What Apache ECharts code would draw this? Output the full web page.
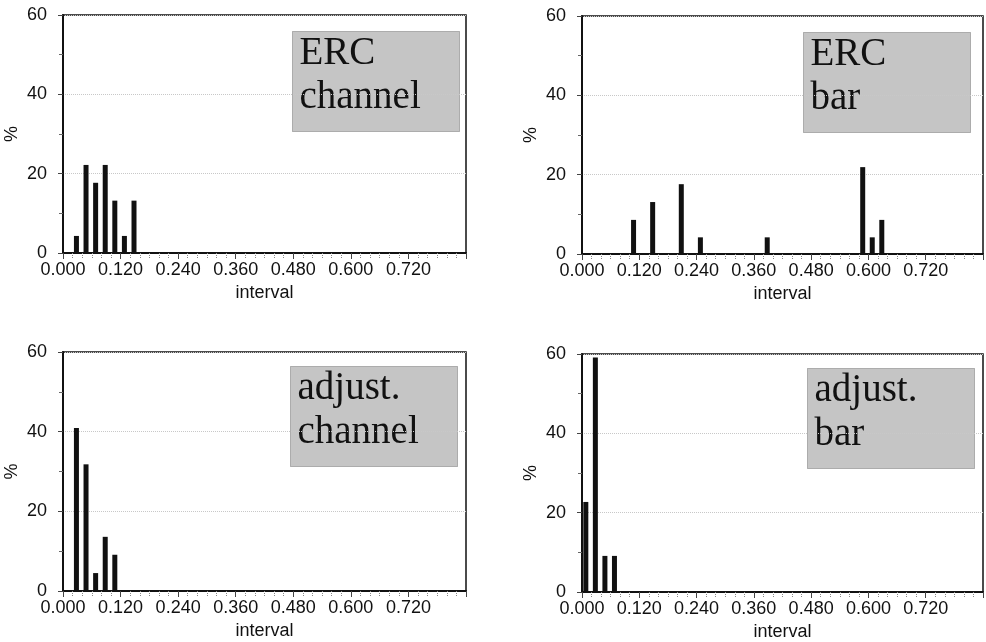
<!DOCTYPE html>
<html>
<head>
<meta charset="utf-8">
<script src="https://cdn.jsdelivr.net/npm/echarts@6/dist/echarts.min.js"></script>
<style>
  html, body { margin: 0; padding: 0; background: #fff; }
  #main { width: 986px; height: 642px; }
</style>
</head>
<body>
<div id="main"></div>
<script>
var chartDom = document.getElementById('main');
var myChart = echarts.init(chartDom);
var option;

// interval bins (bar centre) and % for each panel
var ercChannelX = [0.028, 0.048, 0.068, 0.088, 0.108, 0.128, 0.148];
var ercChannelY = [4.3, 22.2, 17.7, 22.2, 13.2, 4.3, 13.2];

var ercBarX = [0.108, 0.148, 0.208, 0.248, 0.388, 0.588, 0.608, 0.628];
var ercBarY = [8.6, 13.1, 17.6, 4.2, 4.2, 21.9, 4.2, 8.6];

var adjChannelX = [0.028, 0.048, 0.068, 0.088, 0.108];
var adjChannelY = [40.9, 31.8, 4.5, 13.6, 9.1];

var adjBarX = [0.008, 0.028, 0.048, 0.068];
var adjBarY = [22.7, 59.1, 9.1, 9.1];

var labels = [['ERC', 'channel'], ['ERC', 'bar'], ['adjust.', 'channel'], ['adjust.', 'bar']];

function pairs(xs, ys) {
  return xs.map(function (x, i) { return [x, ys[i]]; });
}

var panels = [
  { grid: { left: 63, top: 15, width: 403, height: 238 }, data: pairs(ercChannelX, ercChannelY), box: [292, 31] },
  { grid: { left: 582, top: 16, width: 403, height: 238 }, data: pairs(ercBarX, ercBarY), box: [803, 32] },
  { grid: { left: 63, top: 352, width: 403, height: 239 }, data: pairs(adjChannelX, adjChannelY), box: [290, 366] },
  { grid: { left: 582, top: 354, width: 403, height: 239 }, data: pairs(adjBarX, adjBarY), box: [807, 368] }
];

// stippled grey fill for the label boxes
var pat = document.createElement('canvas');
pat.width = 2; pat.height = 2;
var pc = pat.getContext('2d');
pc.fillStyle = '#eeeeee'; pc.fillRect(0, 0, 2, 2);
pc.fillStyle = '#9c9c9c'; pc.fillRect(0, 0, 1, 1); pc.fillRect(1, 1, 1, 1);

var font = 'Liberation Sans';

var grids = [], xAxes = [], yAxes = [], series = [], graphics = [];
panels.forEach(function (p, i) {
  grids.push(Object.assign({ show: true, borderColor: '#111', borderWidth: 1.5, backgroundColor: 'transparent' }, p.grid));
  xAxes.push({
    type: 'value', gridIndex: i, min: 0, max: 0.84, interval: 0.12,
    name: 'interval', nameLocation: 'middle', nameGap: 31,
    nameTextStyle: { fontFamily: font, fontSize: 18, color: '#111' },
    axisLine: { onZero: false, lineStyle: { color: '#111', width: 2 } },
    axisTick: { length: 6, lineStyle: { color: '#444', width: 1 } },
    minorTick: { show: true, splitNumber: 6, length: 5, lineStyle: { color: '#888', type: 'dotted' } },
    axisLabel: {
      fontFamily: font, fontSize: 18, color: '#111', margin: 8,
      formatter: function (v) { return v > 0.8 ? '' : v.toFixed(3); }
    },
    splitLine: { show: false }
  });
  yAxes.push({
    type: 'value', gridIndex: i, min: 0, max: 60, interval: 20,
    name: '%', nameLocation: 'middle', nameGap: 42,
    nameTextStyle: { fontFamily: font, fontSize: 18, color: '#111' },
    axisLine: { show: true, lineStyle: { color: '#111', width: 2 } },
    axisTick: { show: true, length: 5, lineStyle: { color: '#444' } },
    minorTick: { show: true, splitNumber: 2, length: 4, lineStyle: { color: '#666' } },
    axisLabel: { fontFamily: font, fontSize: 18, color: '#111', margin: 16 },
    splitLine: { show: true, lineStyle: { color: '#c8c8c8', type: 'dotted', width: 1 } }
  });
  series.push({
    type: 'bar', xAxisIndex: i, yAxisIndex: i, data: p.data,
    barWidth: 5, itemStyle: { color: '#111' }, silent: true
  });
  graphics.push({
    type: 'group', left: p.box[0], top: p.box[1],
    children: [
      { type: 'rect', shape: { x: 0, y: 0, width: 167, height: 100 },
        style: { fill: { image: pat, repeat: 'repeat' }, stroke: '#777', lineWidth: 1, lineDash: [1, 1] } },
      { type: 'text', x: 7, y: 42, style: { text: labels[i][0], font: '39px "Liberation Serif"', fill: '#111', textVerticalAlign: 'bottom' } },
      { type: 'text', x: 7, y: 86, style: { text: labels[i][1], font: '39px "Liberation Serif"', fill: '#111', textVerticalAlign: 'bottom' } }
    ]
  });
});

option = {
  backgroundColor: '#fff',
  animation: false,
  grid: grids,
  xAxis: xAxes,
  yAxis: yAxes,
  series: series,
  graphic: graphics
};

option && myChart.setOption(option);
</script>
</body>
</html>
